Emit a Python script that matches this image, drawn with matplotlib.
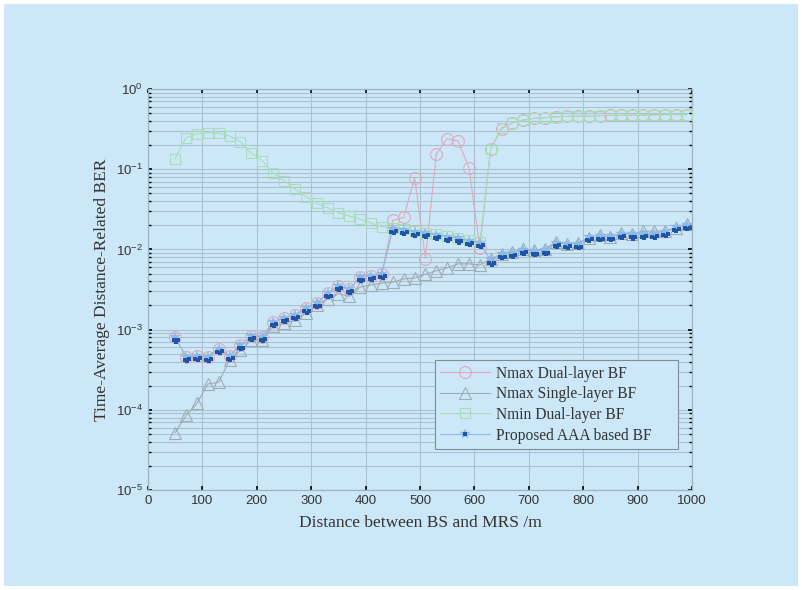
import matplotlib
matplotlib.use('Agg')
import matplotlib.pyplot as plt
import matplotlib.transforms as mtransforms
from matplotlib.patches import Rectangle
from matplotlib.ticker import LogLocator, NullFormatter
from matplotlib.legend_handler import HandlerTuple

# ---------------- data ----------------
distance = [50, 70, 90, 110, 130, 150, 170, 190, 210, 230, 250, 270, 290, 310, 330, 350,
            370, 390, 410, 430, 450, 470, 490, 510, 530, 550, 570, 590, 610, 630, 650, 670,
            690, 710, 730, 750, 770, 790, 810, 830, 850, 870, 890, 910, 930, 950, 970, 990]

nmax_dual = [8.0e-4, 4.6e-4, 4.7e-4, 4.6e-4, 5.8e-4, 4.7e-4, 6.4e-4, 8.3e-4, 8.2e-4, 1.25e-3,
             1.40e-3, 1.52e-3, 1.84e-3, 2.13e-3, 2.85e-3, 3.5e-3, 3.2e-3, 4.5e-3, 4.7e-3, 5.0e-3,
             0.023, 0.025, 0.078, 0.0077, 0.155, 0.24, 0.225, 0.105, 0.0105, 0.18,
             0.32, 0.38, 0.41, 0.43, 0.44, 0.45, 0.455, 0.46, 0.46, 0.465,
             0.47, 0.47, 0.47, 0.475, 0.475, 0.48, 0.48, 0.48]

nmax_single = [5.2e-5, 8.5e-5, 1.2e-4, 2.1e-4, 2.2e-4, 4.2e-4, 5.5e-4, 7.5e-4, 7.5e-4, 1.1e-3,
               1.2e-3, 1.3e-3, 1.6e-3, 2.0e-3, 2.4e-3, 2.8e-3, 2.6e-3, 3.4e-3, 3.6e-3, 3.8e-3,
               3.9e-3, 4.3e-3, 4.4e-3, 4.9e-3, 5.4e-3, 5.9e-3, 6.6e-3, 6.6e-3, 6.4e-3, 7.6e-3,
               8.8e-3, 9.2e-3, 0.0101, 0.0098, 0.0101, 0.0125, 0.0118, 0.0120, 0.0138, 0.0152,
               0.0141, 0.0159, 0.0155, 0.0168, 0.0170, 0.0168, 0.0187, 0.0210]

nmin_dual = [0.135, 0.247, 0.275, 0.285, 0.28, 0.26, 0.22, 0.158, 0.128, 0.0905,
             0.072, 0.0566, 0.0454, 0.0376, 0.033, 0.0287, 0.026, 0.0239, 0.0213, 0.0192,
             0.0185, 0.018, 0.0168, 0.0162, 0.0155, 0.0147, 0.014, 0.0132, 0.0123, 0.18,
             0.33, 0.38, 0.41, 0.43, 0.44, 0.45, 0.455, 0.46, 0.46, 0.465,
             0.47, 0.47, 0.47, 0.475, 0.475, 0.48, 0.48, 0.48]

proposed = [8.0e-4, 4.6e-4, 4.7e-4, 4.6e-4, 5.8e-4, 4.7e-4, 6.4e-4, 8.3e-4, 8.2e-4, 1.25e-3,
            1.40e-3, 1.52e-3, 1.84e-3, 2.13e-3, 2.85e-3, 3.5e-3, 3.2e-3, 4.5e-3, 4.7e-3, 5.0e-3,
            0.018, 0.0177, 0.0165, 0.016, 0.0152, 0.0143, 0.0137, 0.0128, 0.012, 0.0073,
            0.0087, 0.0090, 0.0099, 0.0095, 0.0098, 0.0120, 0.0118, 0.0116, 0.0143, 0.0146,
            0.0146, 0.0157, 0.0154, 0.0157, 0.0157, 0.0165, 0.019, 0.020]

labels = ['Nmax Dual-layer BF', 'Nmax Single-layer BF', 'Nmin Dual-layer BF',
          'Proposed AAA based BF']
xticks = [0, 100, 200, 300, 400, 500, 600, 700, 800, 900, 1000]

# ---------------- style ----------------
bg = '#cce8f8'
grid_c = '#abc1cd'
pink = '#dcaabd'
gray = '#9eacb4'
green = '#aadcba'
lblue = '#8cb9e6'
dblue = '#1f55a8'
text_c = '#333333'

fig = plt.figure(figsize=(8.02, 5.9), dpi=100)
fig.patch.set_facecolor('white')
fig.patches.append(Rectangle((4 / 802, 4 / 590), 794 / 802, 582 / 590,
                             transform=fig.transFigure, facecolor=bg,
                             edgecolor='none', zorder=-10))

ax = fig.add_axes([148 / 802, 100 / 590, 544 / 802, 401 / 590])
ax.set_facecolor(bg)
ax.set_yscale('log')
ax.set_xlim(0, 1000)
ax.set_ylim(1e-5, 1)
ax.set_xticks(xticks)
ax.yaxis.set_major_locator(LogLocator(base=10, numticks=10))
ax.yaxis.set_minor_locator(LogLocator(base=10, subs=range(2, 10), numticks=20))
ax.yaxis.set_minor_formatter(NullFormatter())
ax.set_axisbelow(True)
ax.grid(which='both', axis='y', color=grid_c, lw=0.8)
ax.grid(which='major', axis='x', color=grid_c, lw=0.8)
for s in ax.spines.values():
    s.set_color('#9db3c0')
    s.set_linewidth(0.9)
ax.tick_params(which='both', direction='in', top=True, right=True, color='black',
               labelcolor=text_c, labelsize=9.5)
ax.tick_params(which='major', length=3, width=1.2)
ax.tick_params(which='minor', length=2, width=1.0)
for lab in ax.get_xticklabels() + ax.get_yticklabels():
    lab.set_fontfamily('Liberation Sans')

l1, = ax.plot(distance, nmax_dual, color=pink, lw=0.8, marker='o', ms=8.5,
              mfc='none', mec=pink, mew=0.8, label=labels[0], zorder=3)
l2, = ax.plot(distance, nmax_single, color=gray, lw=0.8, marker='^', ms=8,
              mfc='none', mec=gray, mew=0.8, label=labels[1], zorder=3)
l3, = ax.plot(distance, nmin_dual, color=green, lw=0.8, marker='s', ms=7,
              mfc='none', mec=green, mew=0.8, label=labels[2], zorder=3)
l4, = ax.plot(distance, proposed, color=lblue, lw=0.8, marker='*', ms=7,
              mfc=lblue, mec=lblue, mew=0.3, label=labels[3], zorder=4)
# dark square cluster of the proposed marker (offset copies in screen space)
offsets = [(-1.5, -3.0), (0.8, -4.2), (3.0, -2.4)]
sq = None
for dx, dy in offsets:
    tr = ax.transData + mtransforms.ScaledTranslation(dx / 100, dy / 100, fig.dpi_scale_trans)
    sq, = ax.plot(distance, proposed, ls='none', marker='s', ms=2.4, mfc=dblue,
                  mec=dblue, mew=0, transform=tr, zorder=5)

ax.set_xlabel('Distance between BS and MRS /m', family='Liberation Serif',
              fontsize=12.5, color=text_c, labelpad=6)
ax.set_ylabel('Time-Average Distance-Related BER', family='Liberation Serif',
              fontsize=12.5, color=text_c, labelpad=4)

x0 = (435 - 148) / 544
y0 = (490 - 449) / 401
w = (678 - 435) / 544
h = (449 - 361) / 401
leg = ax.legend([l1, l2, l3, (l4, sq)], labels,
                handler_map={tuple: HandlerTuple(ndivide=1, pad=0)},
                loc='lower left', bbox_to_anchor=(x0, y0, w, h), mode='expand',
                borderaxespad=0, frameon=True, fancybox=False, framealpha=1,
                facecolor=bg, edgecolor='#7f8c94', handlelength=3.2,
                handletextpad=0.35, labelspacing=0.3, borderpad=0.35,
                prop={'family': 'Liberation Serif', 'size': 11.2})
leg.get_frame().set_linewidth(0.8)
for t in leg.get_texts():
    t.set_color(text_c)

fig.savefig('out.png', dpi=100, facecolor=fig.get_facecolor())
